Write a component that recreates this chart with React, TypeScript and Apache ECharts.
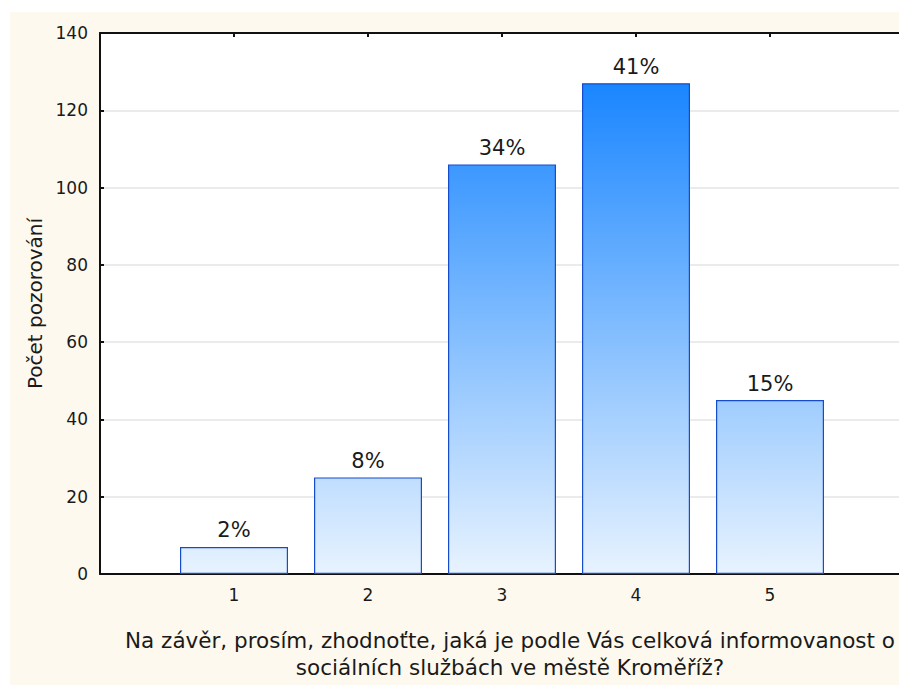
import React, { useEffect, useRef } from "react";
import * as echarts from "echarts";

// Answer categories (rating 1–5) and number of respondents per answer
const categories = [1, 2, 3, 4, 5];
const counts = [7, 25, 106, 127, 45];

// Axis ranges
const xMin = 0;
const xMax = 6;
const yMin = 0;
const yMax = 140;
const yStep = 20;

const xTitle =
  "Na závěr, prosím, zhodnoťte, jaká je podle Vás celková informovanost o\nsociálních službách ve městě Kroměříž?";
const yTitle = "Počet pozorování";

const FONT = "DejaVu Sans";
const INK = "#1a1a1a";

export default function App() {
  const ref = useRef<HTMLDivElement>(null);

  useEffect(() => {
    if (!ref.current) return;
    const chart = echarts.init(ref.current, null, { renderer: "svg" });
    const total = counts.reduce((a, b) => a + b, 0);

    // vertical gradient fixed to the plot, so each bar's shade depends on height
    const barFill = new echarts.graphic.LinearGradient(
      0,
      84,
      0,
      574,
      [
        { offset: 0, color: "#1A86FF" },
        { offset: 1, color: "#E8F3FE" },
      ],
      true
    );

    const axisLine = { show: true, onZero: false, lineStyle: { color: "#111", width: 2 } };
    const axisTick = { show: true, inside: true, length: 4, lineStyle: { color: "#111", width: 2 } };

    chart.setOption({
      animation: false,
      graphic: [
        {
          type: "rect",
          z: -100,
          silent: true,
          shape: { x: 10, y: 12, width: 889, height: 673 },
          style: { fill: "#FDF9EE" },
        },
      ],
      grid: {
        left: 100,
        top: 33,
        width: 804,
        height: 541,
        outerBoundsMode: "none",
        containLabel: false,
        show: true,
        backgroundColor: "#ffffff",
        borderColor: "transparent",
        borderWidth: 0,
      },
      xAxis: [
        {
          type: "value",
          position: "bottom",
          min: xMin,
          max: xMax,
          interval: 1,
          axisLine,
          axisTick,
          splitLine: { show: false },
          axisLabel: {
            margin: 12,
            fontFamily: FONT,
            fontSize: 17,
            color: INK,
            formatter: (v: number) => (categories.includes(v) ? String(v) : ""),
          },
          name: xTitle,
          nameLocation: "middle",
          nameGap: 53,
          nameTextStyle: {
            fontFamily: FONT,
            fontSize: 21.5,
            lineHeight: 27,
            color: INK,
            padding: [0, 0, 0, 16],
          },
        },
        {
          type: "value",
          position: "top",
          min: xMin,
          max: xMax,
          interval: 1,
          axisLine,
          axisTick,
          splitLine: { show: false },
          axisLabel: { show: false },
        },
      ],
      yAxis: {
        type: "value",
        min: yMin,
        max: yMax,
        interval: yStep,
        axisLine,
        axisTick,
        axisLabel: {
          margin: 12,
          fontFamily: FONT,
          fontSize: 17,
          color: INK,
        },
        splitLine: { show: true, lineStyle: { color: "#E4E4E4", width: 1.5 } },
        name: yTitle,
        nameLocation: "middle",
        nameGap: 53,
        nameTextStyle: { fontFamily: FONT, fontSize: 20, color: INK },
      },
      series: [
        {
          type: "bar",
          xAxisIndex: 0,
          data: categories.map((c, i) => [c, counts[i]]),
          barWidth: 108,
          itemStyle: { color: barFill, borderColor: "#154CCB", borderWidth: 1.2 },
          label: {
            show: true,
            position: "top",
            distance: 6,
            fontFamily: FONT,
            fontSize: 21,
            color: INK,
            formatter: (p: any) => Math.round((p.value[1] / total) * 100) + "%",
          },
        },
      ],
    });

    return () => chart.dispose();
  }, []);

  return (
    <div
      ref={ref}
      style={{ position: "absolute", left: 0, top: 0, width: 899, height: 687 }}
    />
  );
}
